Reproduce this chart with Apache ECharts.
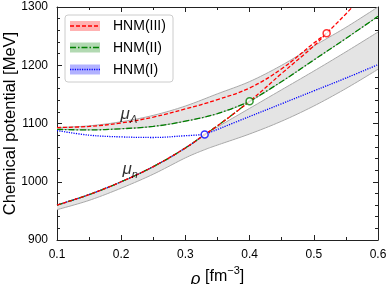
<!DOCTYPE html>
<html><head><meta charset="utf-8">
<script src="https://cdn.jsdelivr.net/npm/echarts@6/dist/echarts.min.js"></script>
<style>html,body{margin:0;padding:0;background:#fff}#c{width:391px;height:284px}</style>
</head><body><div id="c"></div>
<script>
// ---------------- data ----------------
const xTicks = [0.1, 0.2, 0.3, 0.4, 0.5, 0.6];
const yTicks = [900, 1000, 1100, 1200, 1300];
const modelNames = ['HNM(III)', 'HNM(II)', 'HNM(I)'];

// nucleon chemical potential (common to all models before hyperon onset)
const rhoN = [0.10, 0.15, 0.20, 0.25, 0.30, 0.33, 0.35, 0.40, 0.45, 0.50, 0.52, 0.55, 0.56];
const muN  = [960,  978,  1000, 1026, 1058, 1081, 1096, 1138, 1186, 1233, 1255, 1288, 1300];

// Lambda chemical potential before onset
const rhoL3 = [0.10, 0.15, 0.20, 0.25, 0.30, 0.35, 0.40, 0.45, 0.50, 0.52];
const muL3  = [1093, 1095, 1101, 1111, 1125, 1141, 1161, 1194, 1238, 1255];
const rhoL2 = [0.10, 0.15, 0.20, 0.25, 0.30, 0.35, 0.40];
const muL2  = [1090, 1089, 1091, 1095, 1104, 1117, 1138];
const rhoL1 = [0.10, 0.15, 0.20, 0.25, 0.30, 0.33];
const muL1  = [1088, 1080, 1077, 1076, 1079, 1081];

// common mu_n = mu_Lambda after onset
const rhoH2 = [0.40, 0.45, 0.50, 0.55, 0.60];
const muH2  = [1138, 1172, 1209, 1246, 1284];
const rhoH1 = [0.33, 0.40, 0.45, 0.50, 0.55, 0.60];
const muH1  = [1081, 1112, 1134, 1156, 1178, 1201];

// onset points (III, II, I)
const onsetRho = [0.52, 0.40, 0.33];
const onsetMu  = [1255, 1138, 1081];

// grey uncertainty bands
const bandNRho  = [0.10, 0.15, 0.20, 0.25, 0.30, 0.33, 0.35, 0.40, 0.45, 0.50, 0.55, 0.60];
const bandNLow  = [952,  968,  989,  1013, 1041, 1055, 1063, 1082, 1104, 1130, 1160, 1193];
const bandNHigh = [960,  978,  1000, 1026, 1058, 1081, 1094, 1126, 1158, 1190, 1223, 1257];
const bandLRho  = [0.10, 0.15, 0.20, 0.25, 0.30, 0.35, 0.40, 0.45, 0.50, 0.55, 0.60];
const bandLLow  = [1090, 1089, 1091, 1095, 1104, 1117, 1138, 1172, 1209, 1246, 1284];
const bandLHigh = [1093, 1096, 1103, 1114, 1130, 1151, 1172, 1200, 1233, 1265, 1300];

// curve label anchors (data coordinates)
const labelRho = [0.212, 0.214];
const labelMu  = [1116, 1021];
const labelText = ['{mu|μ}{sub|Λ}', '{mu|μ}{sub|n}'];

// ---------------- helpers ----------------
const zip = (xs, ys) => xs.map((x, i) => [x, ys[i]]);
const upTo = (xs, ys, lim) => zip(xs, ys).filter(p => p[0] <= lim + 1e-9);
const FONT = 'Liberation Sans, Arial, sans-serif';
const RED = '#ff0000', GREEN = '#008000', BLUE = '#0000ff';
const GREY_EDGE = '#a8a8a8', GREY_FILL = '#e4e4e4';
const styles = {
  III: { color: RED,   dash: [4, 2] },
  II:  { color: GREEN, dash: [6, 2, 1.5, 2] },
  I:   { color: BLUE,  dash: [1.2, 1.2] }
};
const LW = 1.3;

function lineSeries(data, st, z) {
  return {
    type: 'line', data, smooth: 0.4, showSymbol: false, symbol: 'none', z,
    lineStyle: { color: st.color, width: LW, type: st.dash },
    silent: true, animation: false
  };
}

// Catmull-Rom smoothing of pixel points (rendering only)
function spline(pts, steps) {
  const out = [];
  const n = pts.length;
  for (let i = 0; i < n - 1; i++) {
    const p0 = pts[Math.max(i - 1, 0)], p1 = pts[i], p2 = pts[i + 1], p3 = pts[Math.min(i + 2, n - 1)];
    for (let s = 0; s < steps; s++) {
      const t = s / steps, t2 = t * t, t3 = t2 * t;
      const f = (a, b, c, d) => 0.5 * ((2 * b) + (-a + c) * t + (2 * a - 5 * b + 4 * c - d) * t2 + (-a + 3 * b - 3 * c + d) * t3);
      out.push([f(p0[0], p1[0], p2[0], p3[0]), f(p0[1], p1[1], p2[1], p3[1])]);
    }
  }
  out.push(pts[n - 1]);
  return out;
}

function band(rho, low, high) {
  return {
    type: 'custom', coordinateSystem: 'cartesian2d', z: 1, silent: true, animation: false, clip: true,
    data: [[rho[0], low[0]]],
    renderItem: function (params, api) {
      const up = spline(rho.map((r, i) => api.coord([r, high[i]])), 12);
      const lo = spline(rho.map((r, i) => api.coord([r, low[i]])), 12);
      return {
        type: 'group',
        children: [
          { type: 'polygon', shape: { points: up.concat(lo.slice().reverse()) }, style: { fill: GREY_FILL, stroke: null } },
          { type: 'polyline', shape: { points: up }, style: { stroke: GREY_EDGE, lineWidth: 1, fill: null } },
          { type: 'polyline', shape: { points: lo }, style: { stroke: GREY_EDGE, lineWidth: 1, fill: null } }
        ]
      };
    }
  };
}

const series = [
  band(bandNRho, bandNLow, bandNHigh),
  band(bandLRho, bandLLow, bandLHigh),
  // HNM(I)
  lineSeries(upTo(rhoN, muN, 0.33), styles.I, 3),
  lineSeries(zip(rhoL1, muL1), styles.I, 3),
  lineSeries(zip(rhoH1, muH1), styles.I, 3),
  // HNM(II)
  lineSeries(upTo(rhoN, muN, 0.40), styles.II, 4),
  lineSeries(zip(rhoL2, muL2), styles.II, 4),
  lineSeries(zip(rhoH2, muH2), styles.II, 4),
  // HNM(III)
  lineSeries(zip(rhoN, muN), styles.III, 5),
  lineSeries(zip(rhoL3, muL3), styles.III, 5),
  // onset markers
  ...[styles.III, styles.II, styles.I].map((st, i) => ({
    type: 'scatter', data: [[onsetRho[i], onsetMu[i]]], symbol: 'circle', symbolSize: 7, z: 6,
    itemStyle: { color: '#fff', borderColor: st.color, borderWidth: 1.5 }, animation: false, silent: true
  })),
  // curve labels
  {
    type: 'scatter', symbolSize: 0, z: 7, silent: true, animation: false,
    data: labelRho.map((r, i) => ({ value: [r, labelMu[i]], label: { formatter: labelText[i] } })),
    label: {
      show: true, position: 'inside', color: '#000',
      rich: {
        mu: { fontFamily: FONT, fontStyle: 'italic', fontSize: 17, lineHeight: 22, verticalAlign: 'middle', color: '#000' },
        sub: { fontFamily: FONT, fontStyle: 'italic', fontSize: 11, lineHeight: 22, verticalAlign: 'bottom', color: '#000' }
      }
    }
  }
];

const axisCommon = {
  axisLine: { show: true, lineStyle: { color: '#222', width: 1 } },
  axisTick: { show: true, inside: true, length: 5, lineStyle: { color: '#222', width: 1 } },
  splitLine: { show: false }
};

const option = {
  animation: false,
  grid: { left: 57, right: 13, top: 7, bottom: 44, containLabel: false, outerBoundsMode: 'none' },
  xAxis: [
    Object.assign({
      type: 'value', min: xTicks[0], max: xTicks[xTicks.length - 1], interval: 0.1, position: 'bottom',
      minorTick: { show: true, splitNumber: 2, length: 3, lineStyle: { color: '#222' } },
      axisLabel: { color: '#000', fontSize: 12, fontFamily: FONT, margin: 9,
        formatter: v => { const t = xTicks.find(k => Math.abs(k - v) < 1e-6); return t === undefined ? '' : t.toFixed(1); } },
      name: '{i|ρ} [fm{sup|−3}]', nameLocation: 'middle', nameGap: 19,
      nameTextStyle: { color: '#000', fontFamily: FONT, fontSize: 16,
        rich: {
          i: { fontFamily: FONT, fontStyle: 'italic', fontSize: 17, color: '#000', lineHeight: 22, verticalAlign: 'bottom' },
          sup: { fontFamily: FONT, fontSize: 11, color: '#000', lineHeight: 22, verticalAlign: 'top' }
        } }
    }, axisCommon),
    Object.assign({
      type: 'value', min: xTicks[0], max: xTicks[xTicks.length - 1], interval: 0.1, position: 'top',
      minorTick: { show: true, splitNumber: 2, length: 3, lineStyle: { color: '#222' } },
      axisLabel: { show: false }
    }, axisCommon)
  ],
  yAxis: [
    Object.assign({
      type: 'value', min: yTicks[0], max: yTicks[yTicks.length - 1], interval: 100, position: 'left',
      minorTick: { show: true, splitNumber: 5, length: 3, lineStyle: { color: '#222' } },
      axisLabel: { color: '#000', fontSize: 12, fontFamily: FONT, margin: 9,
        formatter: v => (yTicks.indexOf(v) >= 0 ? String(v) : '') },
      name: 'Chemical potential [MeV]', nameLocation: 'middle', nameGap: 38, nameMoveOverlap: false,
      nameTextStyle: { color: '#000', fontFamily: FONT, fontSize: 16.5 }
    }, axisCommon),
    Object.assign({
      type: 'value', min: yTicks[0], max: yTicks[yTicks.length - 1], interval: 100, position: 'right',
      minorTick: { show: true, splitNumber: 5, length: 3, lineStyle: { color: '#222' } },
      axisLabel: { show: false }
    }, axisCommon)
  ],
  series,
  graphic: (function () {
    const els = [{
      type: 'rect', z: 100, shape: { x: 65, y: 15, width: 108, height: 67, r: 3 },
      style: { fill: 'rgba(255,255,255,0.85)', stroke: '#cccccc', lineWidth: 1 }
    }];
    const cols = [styles.III, styles.II, styles.I];
    const fills = ['rgba(255,0,0,0.3)', 'rgba(0,128,0,0.3)', 'rgba(0,0,255,0.3)'];
    const cy = [26, 47.5, 69.5];
    modelNames.forEach((n, i) => {
      els.push({ type: 'rect', z: 101, shape: { x: 70, y: cy[i] - 5, width: 30, height: 10 },
        style: { fill: fills[i] } });
      els.push({ type: 'line', z: 102, shape: { x1: 70, y1: cy[i], x2: 100, y2: cy[i] },
        style: { stroke: cols[i].color, lineWidth: LW, lineDash: cols[i].dash } });
      els.push({ type: 'text', z: 102, style: { text: n, x: 113, y: cy[i] + 0.5, fill: '#000',
        font: '14px ' + FONT, verticalAlign: 'middle', align: 'left' } });
    });
    return els;
  })()
};

const chart = echarts.init(document.getElementById('c'), null, { renderer: 'canvas' });
chart.setOption(option);
</script>
</body></html>
